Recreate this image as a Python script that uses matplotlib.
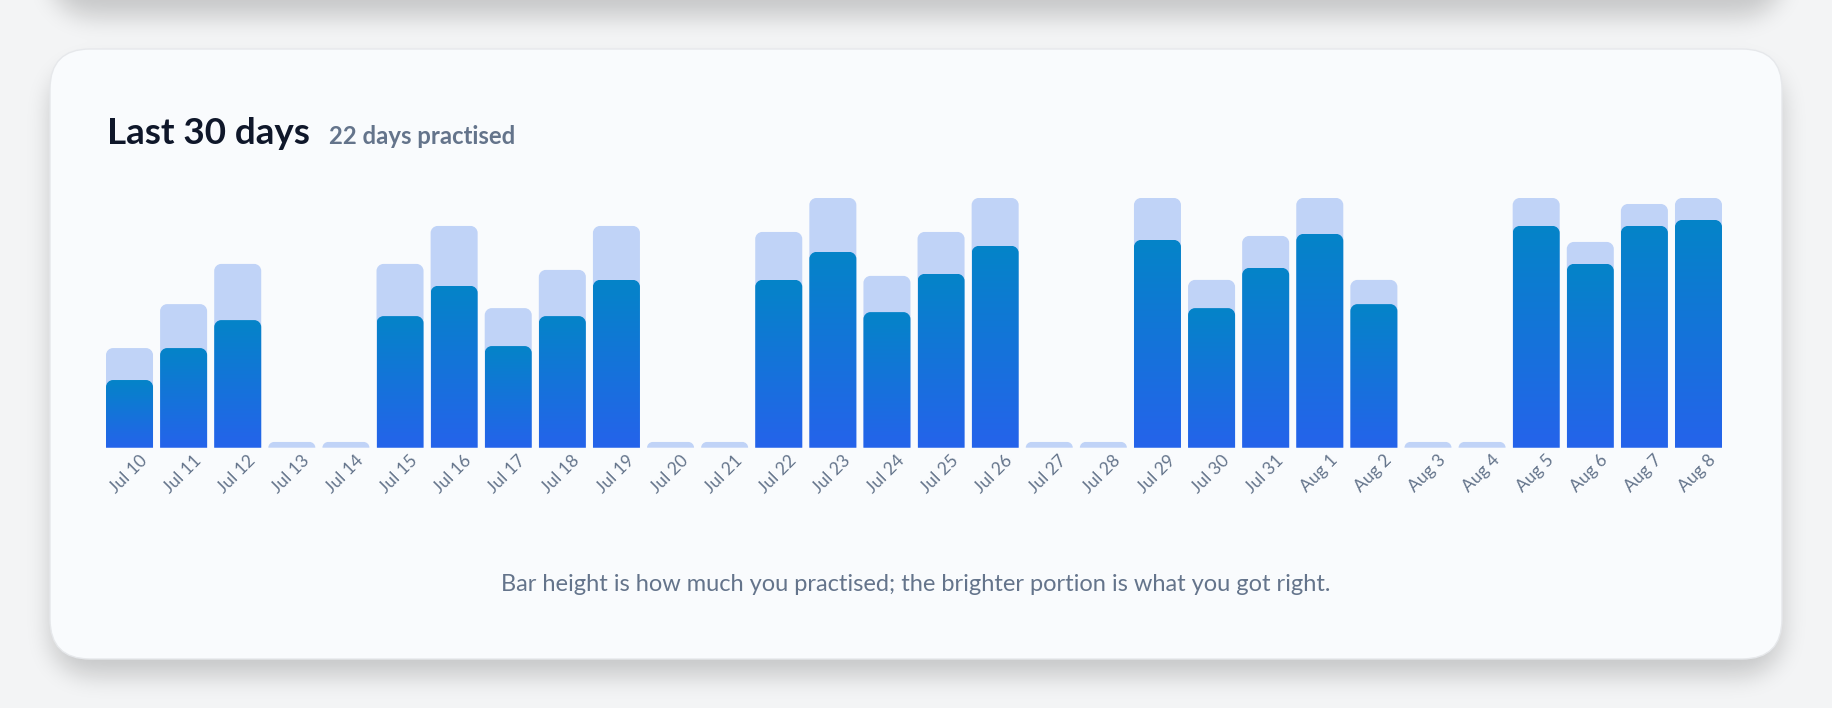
import numpy as np
import matplotlib
matplotlib.use("Agg")
import matplotlib.pyplot as plt
from matplotlib.path import Path
from matplotlib.patches import PathPatch, FancyBboxPatch
from matplotlib import transforms as mtransforms

# ---------------- data ----------------
days = ["Jul 10", "Jul 11", "Jul 12", "Jul 13", "Jul 14", "Jul 15", "Jul 16", "Jul 17",
        "Jul 18", "Jul 19", "Jul 20", "Jul 21", "Jul 22", "Jul 23", "Jul 24", "Jul 25",
        "Jul 26", "Jul 27", "Jul 28", "Jul 29", "Jul 30", "Jul 31", "Aug 1", "Aug 2",
        "Aug 3", "Aug 4", "Aug 5", "Aug 6", "Aug 7", "Aug 8"]
# relative amount practised (tallest = 100)
practised = [39.9, 57.5, 73.6, 0, 0, 73.6, 88.8, 55.9, 71.2, 88.8, 0, 0,
             86.4, 100, 68.8, 86.4, 100, 0, 0, 100, 67.2, 84.8, 100, 67.2,
             0, 0, 100, 82.4, 97.6, 100]
# portion answered correctly (same scale)
correct = [27.1, 39.9, 51.1, 0, 0, 52.7, 64.8, 40.7, 52.7, 67.2, 0, 0,
           67.2, 78.4, 54.3, 69.6, 80.8, 0, 0, 83.2, 55.9, 72.0, 85.6, 57.5,
           0, 0, 88.8, 73.6, 88.8, 91.2]
title = "Last 30 days"
subtitle = "22 days practised"
footnote = "Bar height is how much you practised; the brighter portion is what you got right."

# ---------------- style ----------------
W, H, DPI = 1832, 708, 100
PAGE = "#f3f4f5"
CARD = "#f9fbfd"
CARD_EDGE = "#e6e8eb"
LIGHT = "#c0d3f7"
GRAD_TOP = np.array([0x04, 0x84, 0xc8]) / 255
GRAD_BOT = np.array([0x25, 0x63, 0xeb]) / 255
TITLE_C = "#0f172a"
MUTED = "#64748b"
FONT = ["Lato", "DejaVu Sans"]
ZERO_STUB = 2.3          # visual placeholder for days with no practice
BAR_W = 0.869
RADIUS_PX = 7

plt.rcParams["font.family"] = FONT

fig = plt.figure(figsize=(W / DPI, H / DPI), dpi=DPI, facecolor=PAGE)

# ---------------- soft shadows (decoration) ----------------
M = 120
yy, xx = np.mgrid[-M:H + M, -M:W + M].astype(float)

def rrect_mask(x0, y0, x1, y1, r):
    dx = np.maximum(np.maximum(x0 + r - xx, 0), xx - (x1 - r))
    dy = np.maximum(np.maximum(y0 + r - yy, 0), yy - (y1 - r))
    return ((np.maximum(dx, 0) ** 2 + np.maximum(dy, 0) ** 2) <= r * r).astype(float)

def box_blur(a, k):
    a = np.pad(a, ((k, k), (k, k)), mode="edge")
    c = np.cumsum(a, axis=0)
    c = np.vstack([np.zeros((1, c.shape[1])), c])
    a = (c[2 * k + 1:, :] - c[:-2 * k - 1, :]) / (2 * k + 1)
    c = np.cumsum(a, axis=1)
    c = np.hstack([np.zeros((c.shape[0], 1)), c])
    a = (c[:, 2 * k + 1:] - c[:, :-2 * k - 1]) / (2 * k + 1)
    return a

m = rrect_mask(50, 49 + 16, 1782, 659 + 16, 40) + rrect_mask(50, -700, 1782, 0 + 16, 40)
m = np.clip(m, 0, 1)
for _ in range(3):
    m = box_blur(m, 11)
m = m[M:M + H, M:M + W]
shadow = np.zeros((H, W, 4))
shadow[..., 3] = m * 0.18
fig.figimage(shadow, xo=0, yo=0, origin="upper", zorder=0)

card = FancyBboxPatch((50, H - 659), 1732, 610, boxstyle="round,pad=0,rounding_size=40",
                      transform=mtransforms.IdentityTransform(), facecolor=CARD,
                      edgecolor=CARD_EDGE, linewidth=1.0, zorder=0.5)
fig.add_artist(card)

# ---------------- chart ----------------
ax = fig.add_axes([106 / W, 1 - 447.7 / H, 1616 / W, 249.7 / H], zorder=1)
ax.set_facecolor("none")
n = len(days)
ax.set_xlim(-BAR_W / 2, n - 1 + BAR_W / 2)
ax.set_ylim(0, 100)
ax.axis("off")

fig.canvas.draw()
bb = ax.get_window_extent()
sx = bb.width / (ax.get_xlim()[1] - ax.get_xlim()[0])
sy = bb.height / (ax.get_ylim()[1] - ax.get_ylim()[0])
rx, ry_full = RADIUS_PX / sx, RADIUS_PX / sy

def top_rounded(x0, x1, h):
    ry = min(ry_full, h)
    rxx = rx * ry / ry_full
    k = 0.5523
    verts = [(x0, 0), (x0, h - ry),
             (x0, h - ry + k * ry), (x0 + rxx - k * rxx, h), (x0 + rxx, h),
             (x1 - rxx, h),
             (x1 - rxx + k * rxx, h), (x1, h - ry + k * ry), (x1, h - ry),
             (x1, 0), (x0, 0)]
    codes = [Path.MOVETO, Path.LINETO,
             Path.CURVE4, Path.CURVE4, Path.CURVE4,
             Path.LINETO,
             Path.CURVE4, Path.CURVE4, Path.CURVE4,
             Path.LINETO, Path.CLOSEPOLY]
    return Path(verts, codes)

grad = np.linspace(0, 1, 256)[:, None, None]
grad_img = GRAD_TOP[None, None, :] * (1 - grad) + GRAD_BOT[None, None, :] * grad

for i, (tot, cor) in enumerate(zip(practised, correct)):
    x0, x1 = i - BAR_W / 2, i + BAR_W / 2
    h = tot if tot > 0 else ZERO_STUB
    ax.add_patch(PathPatch(top_rounded(x0, x1, h), facecolor=LIGHT, edgecolor="none", zorder=2))
    if cor > 0:
        clip = PathPatch(top_rounded(x0, x1, cor), facecolor="none", edgecolor="none",
                         transform=ax.transData)
        im = ax.imshow(grad_img, extent=(x0, x1, 0, cor), origin="upper", aspect="auto",
                       interpolation="bilinear", zorder=3)
        im.set_clip_path(clip)

ax.set_xlim(-BAR_W / 2, n - 1 + BAR_W / 2)
ax.set_ylim(0, 100)

off = mtransforms.ScaledTranslation(15 / DPI, -10 / DPI, fig.dpi_scale_trans)
for i, lab in enumerate(days):
    ax.text(i, 0, lab, transform=ax.transData + off, rotation=45, rotation_mode="anchor",
            ha="right", va="center", fontsize=12.5, color=MUTED, clip_on=False)

# ---------------- texts ----------------
fig.text(107 / W, 1 - 144 / H, title, fontsize=26.5, fontweight="bold", color=TITLE_C,
         va="baseline", ha="left")
fig.text(329 / W, 1 - 144 / H, subtitle, fontsize=17.2, fontweight="bold", color=MUTED,
         va="baseline", ha="left")
fig.text(916 / W, 1 - 591 / H, footnote, fontsize=17, color=MUTED, va="baseline", ha="center")

fig.savefig("out.png", dpi=DPI, facecolor=PAGE)
